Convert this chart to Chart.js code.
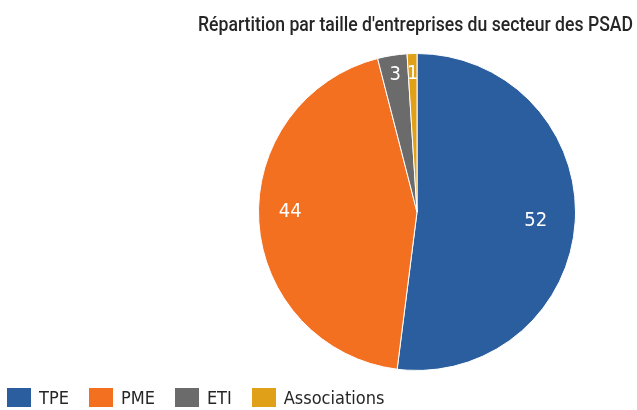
<!DOCTYPE html>
<html>
<head>
<meta charset="utf-8">
<script src="https://cdn.jsdelivr.net/npm/chart.js@4"></script>
<style>
    html, body { margin: 0; padding: 0; background: #fff; }
    #wrap { position: relative; width: 637px; height: 410px; }
    #chartTitle {
        position: absolute; left: 198px; top: 12px;
        font-family: Roboto, sans-serif; line-height: 24px;
        font-size: 20px; font-weight: 500; color: #262626; white-space: nowrap;
        transform-origin: left top;
    }
    #legend {
        position: absolute; left: 7px; top: 387px; line-height: 22px;
        font-family: 'DejaVu Sans Condensed', sans-serif;
        font-size: 18px; color: #262626; white-space: nowrap;
    }
    .item { display: inline-block; margin-right: 20px; }
    .swatch { display: inline-block; width: 24px; height: 19px; vertical-align: -3px; margin-right: 8px; }
</style>
</head>
<body>
<div id="wrap">
    <canvas id="pie" width="637" height="410"></canvas>
    <span id="chartTitle">Répartition par taille d'entreprises du secteur des PSAD</span>
    <div id="legend"></div>
</div>
<script>
var categories = ['TPE', 'PME', 'ETI', 'Associations'];
var shares = [52, 44, 3, 1];
var colors = ['#2b5e9f', '#f37021', '#6b6b6b', '#e0a018'];
// where each value label sits: fraction of radius, and nudge in degrees
var labelRadius = [0.75, 0.8, 0.88, 0.88];
var labelNudge = [0, 4, 0, 0];

function fitTitle() {
    var t = document.getElementById('chartTitle');
    var w = t.getBoundingClientRect().width;
    t.style.transform = 'scaleX(' + (435 / w) + ')';
}

function buildLegend() {
    var box = document.getElementById('legend');
    for (var i = 0; i < categories.length; i++) {
        var item = document.createElement('span');
        item.className = 'item';
        item.innerHTML = '<span class="swatch" style="background:' + colors[i] + '"></span>' + categories[i];
        box.appendChild(item);
    }
}

var sliceLabels = {
    id: 'sliceLabels',
    afterDatasetsDraw: function (chart) {
        var ctx = chart.ctx;
        var arcs = chart.getDatasetMeta(0).data;
        ctx.save();
        ctx.fillStyle = '#ffffff';
        ctx.font = '20px "DejaVu Sans Condensed", sans-serif';
        ctx.textAlign = 'center';
        ctx.textBaseline = 'middle';
        for (var i = 0; i < arcs.length; i++) {
            var a = arcs[i];
            var mid = (a.startAngle + a.endAngle) / 2 + labelNudge[i] * Math.PI / 180;
            var r = a.outerRadius * labelRadius[i];
            ctx.fillText(String(shares[i]), a.x + Math.cos(mid) * r, a.y + Math.sin(mid) * r + 1);
        }
        ctx.restore();
    }
};

function buildPie() {
    new Chart(document.getElementById('pie'), {
        type: 'pie',
        data: {
            labels: categories,
            datasets: [{
                data: shares,
                backgroundColor: colors,
                borderColor: '#ffffff',
                borderWidth: 1
            }]
        },
        options: {
            responsive: false,
            animation: false,
            layout: { padding: { left: 258, right: 61, top: 53, bottom: 39 } },
            plugins: {
                legend: { display: false },
                title: { display: false },
                tooltip: { enabled: false }
            }
        },
        plugins: [sliceLabels]
    });
}

fitTitle();
buildLegend();
buildPie();
</script>
</body>
</html>
